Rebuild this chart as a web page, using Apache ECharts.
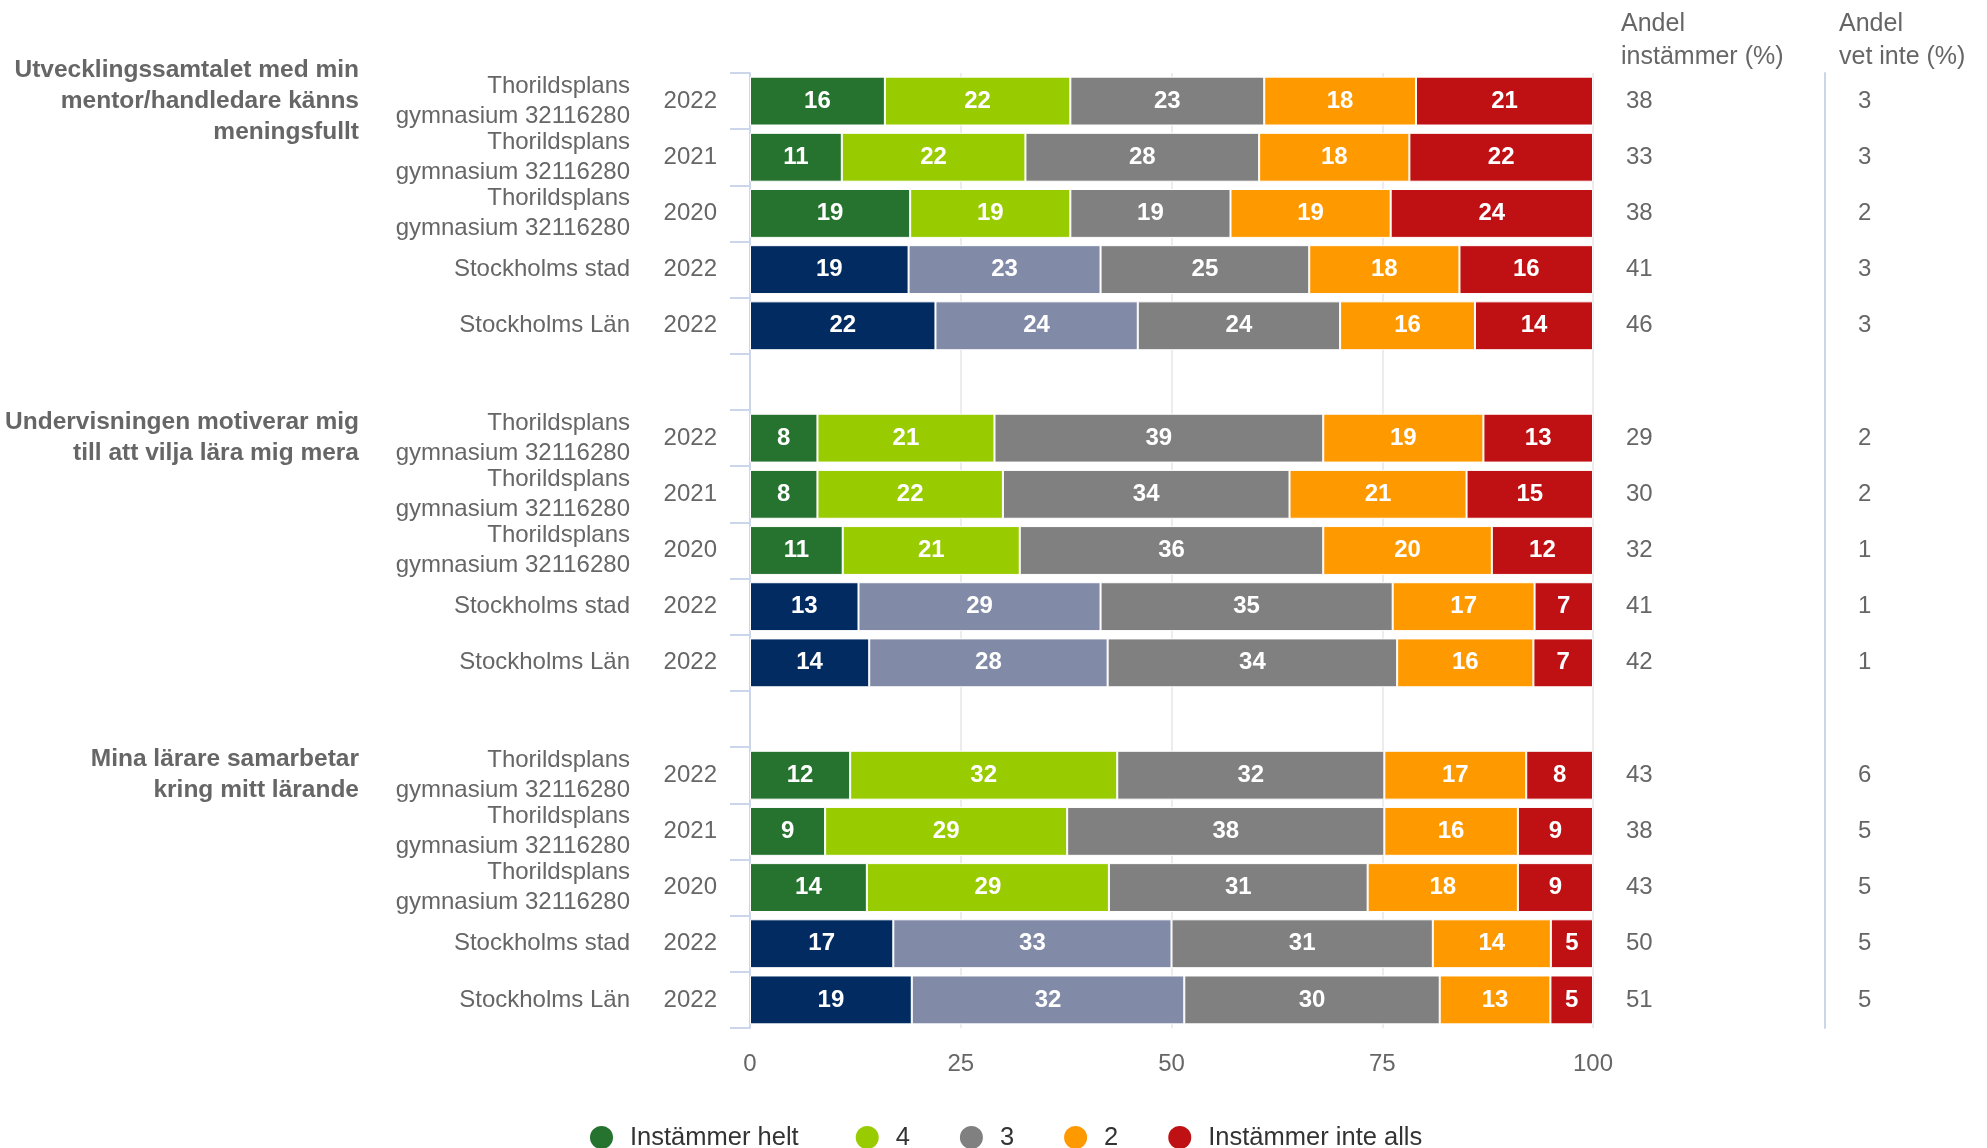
<!DOCTYPE html>
<html lang="sv">
<head>
    <meta charset="UTF-8">
    <title>Enkät - staplat diagram</title>
    <style>
        html, body { margin: 0; padding: 0; background: #fff; }
        #main { width: 1987px; height: 1148px; }
    </style>
    <script src="https://cdn.jsdelivr.net/npm/echarts@6/dist/echarts.min.js"></script>
</head>
<body>
<div id="main"></div>
<script type="text/javascript">

    // rader (tomma rader = mellanrum mellan frågorna)
    var school = 'Thorildsplans\ngymnasium 32116280';
    var rowNames = [school, school, school, 'Stockholms stad', 'Stockholms Län', '',
                    school, school, school, 'Stockholms stad', 'Stockholms Län', '',
                    school, school, school, 'Stockholms stad', 'Stockholms Län'];
    var years = ['2022', '2021', '2020', '2022', '2022', '',
                 '2022', '2021', '2020', '2022', '2022', '',
                 '2022', '2021', '2020', '2022', '2022'];
    var groupTitles = ['Utvecklingssamtalet med min\nmentor/handledare känns\nmeningsfullt', '', '', '', '', '',
                       'Undervisningen motiverar mig\ntill att vilja lära mig mera', '', '', '', '', '',
                       'Mina lärare samarbetar\nkring mitt lärande', '', '', '', ''];

    var seriesNames = ['Instämmer helt', '4', '3', '2', 'Instämmer inte alls'];
    var helt    = [16, 11, 19, 19, 22, null, 8, 8, 11, 13, 14, null, 12, 9, 14, 17, 19];
    var fyra    = [22, 22, 19, 23, 24, null, 21, 22, 21, 29, 28, null, 32, 29, 29, 33, 32];
    var tre     = [23, 28, 19, 25, 24, null, 39, 34, 36, 35, 34, null, 32, 38, 31, 31, 30];
    var tva     = [18, 18, 19, 18, 16, null, 19, 21, 20, 17, 16, null, 17, 16, 18, 14, 13];
    var inteAll = [21, 22, 24, 16, 14, null, 13, 15, 12, 7, 7, null, 8, 9, 9, 5, 5];

    var andelInstammer = ['38', '33', '38', '41', '46', '', '29', '30', '32', '41', '42', '', '43', '38', '43', '50', '51'];
    var andelVetInte   = ['3', '3', '2', '3', '3', '', '2', '2', '1', '1', '1', '', '6', '5', '5', '5', '5'];

    var xTicks = [0, 25, 50, 75, 100];

    var colors = ['#26722f', '#99cc00', '#808080', '#ff9900', '#bf1114'];
    var regionColors = ['#012b61', '#818aa6']; // Stockholms stad / Län

    var cats = rowNames.map(function (n, i) { return 'r' + i; });
    var isRegion = rowNames.map(function (n) { return n.indexOf('Stockholms') === 0; });

    var valueLists = [helt, fyra, tre, tva, inteAll];

    // procentstapling: varje rad fylls till 100, etiketten visar det avlästa värdet
    var rowSums = cats.map(function (c, i) {
        var s = 0;
        valueLists.forEach(function (vals) { s += vals[i] || 0; });
        return s;
    });

    function buildData(values, k) {
        return values.map(function (v, i) {
            if (v === null) return null;
            var item = { value: v / rowSums[i] * 100, raw: v };
            if (k < 2 && isRegion[i]) {
                item.itemStyle = { color: regionColors[k] };
            }
            return item;
        });
    }

    var series = valueLists.map(function (vals, k) {
        return {
            name: seriesNames[k],
            type: 'bar',
            stack: 'total',
            barCategoryGap: '13%',
            itemStyle: { color: colors[k], borderColor: '#fff', borderWidth: 1 },
            label: {
                show: true,
                position: 'inside',
                color: '#fff',
                fontWeight: 'bold',
                fontSize: 24,
                fontFamily: 'Liberation Sans',
                formatter: function (p) { return p.data.raw; }
            },
            data: buildData(vals, k)
        };
    });

    var labelFont = { fontFamily: 'Liberation Sans', fontSize: 24, color: '#666' };

    function listAxis(labels, opt) {
        var ax = {
            type: 'category',
            inverse: true,
            data: cats,
            position: opt.position || 'left',
            offset: opt.offset || 0,
            axisLine: { show: false },
            axisTick: { show: false },
            splitLine: { show: false },
            axisLabel: Object.assign({
                interval: 0,
                margin: opt.margin,
                formatter: function (v, i) { return labels[i]; }
            }, labelFont, opt.label || {})
        };
        if (opt.line) {
            ax.axisLine = { show: true, lineStyle: { color: '#ccd6eb', width: 2 } };
        }
        return ax;
    }

    var legendText = { fontFamily: 'Liberation Sans', fontSize: 25.5, color: '#333' };

    var myChart = echarts.init(document.getElementById('main'));
    var option = {
        animation: false,
        title: [
            { text: 'Andel\ninstämmer (%)', left: 1616, top: 3,
              textStyle: { fontFamily: 'Liberation Sans', fontSize: 25, fontWeight: 'normal', color: '#666', lineHeight: 33 } },
            { text: 'Andel\nvet inte (%)', left: 1834, top: 3,
              textStyle: { fontFamily: 'Liberation Sans', fontSize: 25, fontWeight: 'normal', color: '#666', lineHeight: 33 } }
        ],
        legend: {
            data: seriesNames,
            left: 588,
            top: 1124,
            padding: 0,
            icon: 'circle',
            itemWidth: 25,
            itemHeight: 25,
            itemGap: 48,
            formatter: function (name) {
                // lite extra luft efter första posten
                return '{t|' + name + '}' + (name === seriesNames[0] ? '{s| }' : '');
            },
            textStyle: Object.assign({
                rich: {
                    t: Object.assign({ padding: [0, 0, 0, 11] }, legendText),
                    s: Object.assign({ width: 9 }, legendText)
                }
            }, legendText)
        },
        grid: { left: 750, right: 394, top: 73, height: 955, containLabel: false },
        xAxis: {
            type: 'value',
            min: xTicks[0],
            max: xTicks[xTicks.length - 1],
            interval: 25,
            axisLine: { show: false },
            axisTick: { show: false },
            splitLine: { show: true, lineStyle: { color: '#e6e6e6', width: 1.5 } },
            axisLabel: Object.assign({ margin: 24 }, labelFont)
        },
        yAxis: [
            {
                type: 'category',
                inverse: true,
                data: cats,
                axisLine: { show: true, lineStyle: { color: '#ccd6eb', width: 2 } },
                axisTick: { show: true, length: 20, lineStyle: { color: '#ccd6eb', width: 2 } },
                axisLabel: Object.assign({
                    interval: 0,
                    margin: 33,
                    formatter: function (v, i) { return years[i]; }
                }, labelFont)
            },
            listAxis(rowNames, { margin: 120, label: { lineHeight: 30 } }),
            listAxis(groupTitles, { margin: 391, label: { lineHeight: 31, fontWeight: 'bold', fontSize: 24.5 } }),
            listAxis(andelInstammer, { position: 'right', margin: 33, label: { align: 'left' } }),
            listAxis(andelVetInte, { position: 'right', offset: 232, margin: 33, line: true, label: { align: 'left' } })
        ],
        series: series
    };

    myChart.setOption(option);

</script>
</body>
</html>
